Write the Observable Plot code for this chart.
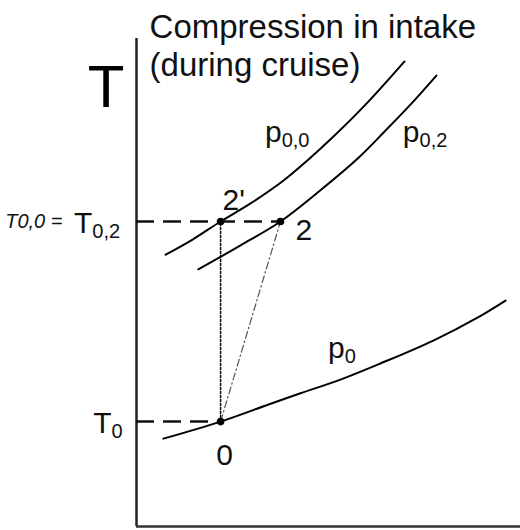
<!DOCTYPE html>
<html>
<head>
<meta charset="utf-8">
<script src="https://cdn.jsdelivr.net/npm/d3@7"></script>
<script src="https://cdn.jsdelivr.net/npm/@observablehq/plot@0.6"></script>
<style>
  body { margin: 0; background: #fff; }
</style>
</head>
<body>
<div id="chart"></div>
<script>
// Isobars on the T–s plane (entropy s and temperature T in arbitrary units)
const sP00 = [0.76, 1.46, 2.19, 2.97, 3.83, 4.45, 5.13, 6.02, 6.98];
const tP00 = [5.57, 5.88, 6.25, 6.62, 7.09, 7.50, 7.99, 8.69, 9.53];

const sP02 = [1.61, 2.71, 3.75, 4.79, 5.76, 6.48, 7.14, 7.81];
const tP02 = [5.27, 5.76, 6.25, 6.89, 7.54, 8.11, 8.65, 9.24];

const sP0 = [0.70, 2.19, 3.44, 4.27, 5.31, 6.35, 7.73, 8.88, 9.61];
const tP0 = [1.80, 2.15, 2.50, 2.73, 3.01, 3.34, 3.81, 4.28, 4.63];

// States: 0 = free stream, 2' = isentropic end, 2 = actual end of intake
const stateNames = ["2'", "2", "0"];
const stateS = [2.19, 3.75, 2.19];
const stateT = [6.25, 6.25, 2.15];

// Labels: base letter + subscript, placed at their junction point
const labelBase = ["p", "p", "p", "T", "T"];
const labelSub = ["0,0", "0,2", "0", "0,2", "0"];
const labelS = [3.78, 7.37, 5.42, -1.15, -0.65];
const labelT = [7.87, 7.87, 3.46, 6.02, 1.91];

// Point names next to the states
const pointText = ["2'", "2", "0"];
const pointS = [2.24, 4.14, 2.08];
const pointT = [6.48, 5.88, 1.27];

const titleLines = ["Compression in intake", "(during cruise)"];
const titleS = [0.34, 0.34];
const titleT = [10.02, 9.24];

const toRows = (s, t) => s.map((v, i) => ({s: v, T: t[i]}));
const iso00 = toRows(sP00, tP00);
const iso02 = toRows(sP02, tP02);
const iso0 = toRows(sP0, tP0);
const states = stateNames.map((n, i) => ({name: n, s: stateS[i], T: stateT[i]}));
const st = Object.fromEntries(states.map(d => [d.name, d]));
const labels = labelBase.map((b, i) => ({base: b, sub: labelSub[i], s: labelS[i], T: labelT[i]}));
const points = pointText.map((t, i) => ({text: t, s: pointS[i], T: pointT[i]}));
const titles = titleLines.map((t, i) => ({text: t, s: titleS[i], T: titleT[i]}));

const font = "'Liberation Sans', Arial, sans-serif";

const chart = Plot.plot({
  width: 520,
  height: 530,
  marginLeft: 136,
  marginRight: 0,
  marginTop: 38,
  marginBottom: 4,
  x: {domain: [0, 10], axis: null},
  y: {domain: [0, 10], axis: null},
  style: {fontFamily: font, background: "#fff", overflow: "visible"},
  marks: [
    // axes
    Plot.ruleX([0], {y1: 0, y2: 10, stroke: "#222", strokeWidth: 2.5}),
    Plot.ruleY([0], {x1: 0, x2: 10, stroke: "#333", strokeWidth: 2.5}),
    // temperature guide lines to the axis
    Plot.ruleY([st["2"]], {x1: 0, x2: "s", y: "T", stroke: "#111", strokeWidth: 2.5, strokeDasharray: "18,9"}),
    Plot.ruleY([st["0"]], {x1: 0, x2: "s", y: "T", stroke: "#111", strokeWidth: 2.5, strokeDasharray: "18,9"}),
    // isentropic compression 0 -> 2'
    Plot.line([st["0"], st["2'"]], {x: "s", y: "T", stroke: "#111", strokeWidth: 1.6, strokeDasharray: "2,2"}),
    // actual compression 0 -> 2
    Plot.line([st["0"], st["2"]], {x: "s", y: "T", stroke: "#555", strokeWidth: 1.2, strokeDasharray: "7,3,1.5,3"}),
    // isobars
    Plot.line(iso00, {x: "s", y: "T", curve: "catmull-rom", stroke: "#000", strokeWidth: 2}),
    Plot.line(iso02, {x: "s", y: "T", curve: "catmull-rom", stroke: "#000", strokeWidth: 2}),
    Plot.line(iso0, {x: "s", y: "T", curve: "catmull-rom", stroke: "#000", strokeWidth: 2}),
    // states
    Plot.dot(states, {x: "s", y: "T", r: 3.8, fill: "#000", stroke: "none"}),
    // labels
    Plot.text(labels, {x: "s", y: "T", text: "base", textAnchor: "end", lineAnchor: "bottom", fontSize: 30, fill: "#111"}),
    Plot.text(labels, {x: "s", y: "T", text: "sub", textAnchor: "start", lineAnchor: "bottom", dy: 5, fontSize: 20, fill: "#111"}),
    Plot.text(points, {x: "s", y: "T", text: "text", textAnchor: "start", lineAnchor: "bottom", fontSize: 30, fill: "#111"}),
    Plot.text(["T"], {x: -0.79, y: 8.59, text: d => d, textAnchor: "middle", lineAnchor: "bottom", fontSize: 60, fill: "#000"}),
    Plot.text(titles, {x: "s", y: "T", text: "text", textAnchor: "start", lineAnchor: "bottom", fontSize: 33, fill: "#111"}),
    Plot.text(["T0,0 ="], {x: -3.42, y: 6.11, text: d => d, textAnchor: "start", lineAnchor: "bottom", fontSize: 20, fontStyle: "italic", fill: "#111"})
  ]
});

document.getElementById("chart").appendChild(chart);
</script>
</body>
</html>
